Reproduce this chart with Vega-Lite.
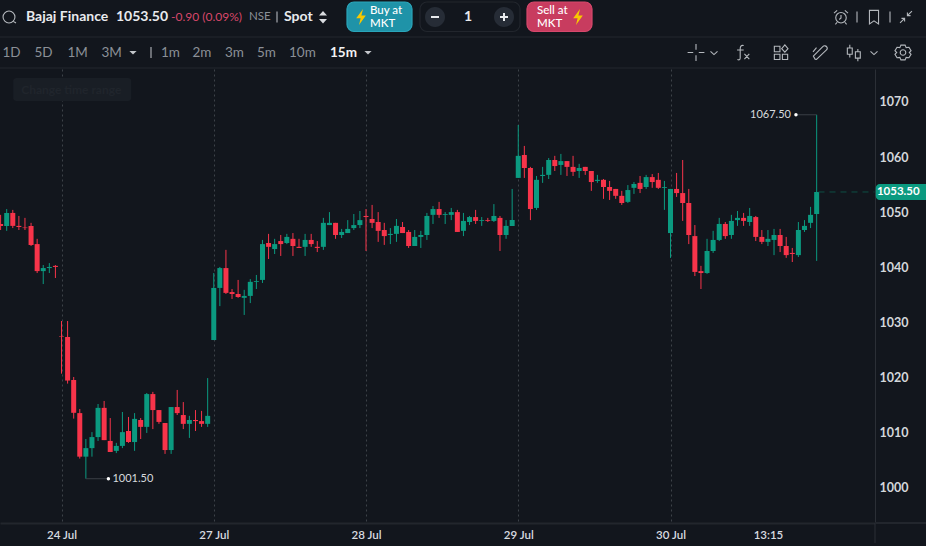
{
  "$schema": "https://vega.github.io/schema/vega-lite/v6.json",
  "background": "#12161d",
  "padding": {"left": -1, "top": 0, "right": 0, "bottom": 4},
  "spacing": 0,
  "config": {
    "view": {"stroke": null},
    "text": {"font": "Lato"},
    "axis": {"labelFont": "Lato", "title": null}
  },
  "datasets": {
    "candles": [
      {"n":0,"o":1047.7,"h":1049.35,"l":1046.6,"c":1047.35},
      {"n":1,"o":1047.35,"h":1050.4,"l":1046.45,"c":1049.7},
      {"n":2,"o":1049.7,"h":1050.25,"l":1046.95,"c":1047.35},
      {"n":3,"o":1047.35,"h":1049.15,"l":1046.6,"c":1047.15},
      {"n":4,"o":1047.05,"h":1048.8,"l":1046.6,"c":1046.95},
      {"n":5,"o":1047.35,"h":1047.9,"l":1043.7,"c":1043.9},
      {"n":6,"o":1044.05,"h":1045,"l":1038.8,"c":1039.15},
      {"n":7,"o":1039.15,"h":1040.25,"l":1036.8,"c":1039.7},
      {"n":8,"o":1039.7,"h":1040.6,"l":1038.8,"c":1039.9},
      {"n":9,"o":1040.1,"h":1040.25,"l":1037.9,"c":1039.9},
      {"n":10,"o":1027.4,"h":1030.1,"l":1020.55,"c":1027.3},
      {"n":11,"o":1027.2,"h":1030.1,"l":1018.75,"c":1019.3},
      {"n":12,"o":1019.4,"h":1019.95,"l":1012.4,"c":1013.45},
      {"n":13,"o":1013.4,"h":1014.15,"l":1005.15,"c":1005.5},
      {"n":14,"o":1005.5,"h":1008.7,"l":1001.5,"c":1007.05},
      {"n":15,"o":1007.05,"h":1009.95,"l":1005.5,"c":1009.05},
      {"n":16,"o":1009.05,"h":1015.05,"l":1008.35,"c":1014.35},
      {"n":17,"o":1014.35,"h":1015.6,"l":1008.5,"c":1008.5},
      {"n":18,"o":1008.35,"h":1012.5,"l":1006.35,"c":1006.35},
      {"n":19,"o":1006.55,"h":1008,"l":1006.15,"c":1007.45},
      {"n":20,"o":1007.45,"h":1013.6,"l":1007.05,"c":1009.95},
      {"n":21,"o":1010.15,"h":1012.7,"l":1008,"c":1008.15},
      {"n":22,"o":1008.15,"h":1013.4,"l":1006.55,"c":1012.35},
      {"n":23,"o":1012.15,"h":1012.5,"l":1008.7,"c":1010.9},
      {"n":24,"o":1010.9,"h":1017.05,"l":1009.8,"c":1016.85},
      {"n":25,"o":1016.85,"h":1017.25,"l":1010.5,"c":1013.95},
      {"n":26,"o":1013.95,"h":1013.95,"l":1011.45,"c":1011.8},
      {"n":27,"o":1011.6,"h":1011.6,"l":1006,"c":1006.7},
      {"n":28,"o":1006.7,"h":1014.5,"l":1006,"c":1014.5},
      {"n":29,"o":1014.5,"h":1017.6,"l":1013.05,"c":1013.4},
      {"n":30,"o":1013.05,"h":1015.4,"l":1010.5,"c":1011.45},
      {"n":31,"o":1011.45,"h":1012.9,"l":1008.9,"c":1012.15},
      {"n":32,"o":1012.15,"h":1013.95,"l":1010.15,"c":1011.95},
      {"n":33,"o":1011.95,"h":1013.8,"l":1010.9,"c":1011.45},
      {"n":34,"o":1011.45,"h":1019.75,"l":1010.9,"c":1012.9},
      {"n":35,"o":1026.65,"h":1038.8,"l":1026.65,"c":1036.1},
      {"n":36,"o":1036.1,"h":1039.9,"l":1032.8,"c":1039.7},
      {"n":37,"o":1039.7,"h":1043,"l":1035,"c":1035.2},
      {"n":38,"o":1035.35,"h":1035.9,"l":1034.1,"c":1035},
      {"n":39,"o":1035,"h":1037.55,"l":1034.3,"c":1034.45},
      {"n":40,"o":1034.3,"h":1035.75,"l":1031.2,"c":1034.65},
      {"n":41,"o":1034.65,"h":1037.7,"l":1033.35,"c":1037.2},
      {"n":42,"o":1037.2,"h":1038.45,"l":1035.9,"c":1037.35},
      {"n":43,"o":1037.55,"h":1044.8,"l":1037,"c":1044.05},
      {"n":44,"o":1044.25,"h":1045.9,"l":1041.35,"c":1043.55},
      {"n":45,"o":1043.15,"h":1045,"l":1042.25,"c":1044.05},
      {"n":46,"o":1044.6,"h":1045.7,"l":1041.9,"c":1044.05},
      {"n":47,"o":1044.25,"h":1045.9,"l":1044.05,"c":1045.35},
      {"n":48,"o":1045,"h":1046.05,"l":1041.9,"c":1043.7},
      {"n":49,"o":1043.55,"h":1045,"l":1043.35,"c":1043.35},
      {"n":50,"o":1043.55,"h":1045.9,"l":1041.9,"c":1044.8},
      {"n":51,"o":1044.8,"h":1045.9,"l":1043.55,"c":1044.05},
      {"n":52,"o":1043.55,"h":1044.6,"l":1042.6,"c":1043.35},
      {"n":53,"o":1043.55,"h":1048.8,"l":1043,"c":1047.9},
      {"n":54,"o":1047.5,"h":1049.85,"l":1047.5,"c":1047.9},
      {"n":55,"o":1047.9,"h":1047.9,"l":1045,"c":1045.7},
      {"n":56,"o":1045.7,"h":1046.8,"l":1045.15,"c":1046.25},
      {"n":57,"o":1046.05,"h":1048.4,"l":1046.05,"c":1046.8},
      {"n":58,"o":1046.95,"h":1049.5,"l":1046.6,"c":1047.5},
      {"n":59,"o":1047.5,"h":1050.05,"l":1046.95,"c":1048.4},
      {"n":60,"o":1049.15,"h":1050.4,"l":1042.8,"c":1048.95},
      {"n":61,"o":1048.6,"h":1051.15,"l":1046.95,"c":1047.9},
      {"n":62,"o":1048.05,"h":1049.85,"l":1044.45,"c":1046.45},
      {"n":63,"o":1046.6,"h":1047.9,"l":1043.9,"c":1045.5},
      {"n":64,"o":1045.7,"h":1046.95,"l":1044.05,"c":1045.9},
      {"n":65,"o":1045.9,"h":1048.6,"l":1044.45,"c":1047.35},
      {"n":66,"o":1047.15,"h":1048.05,"l":1046.05,"c":1046.05},
      {"n":67,"o":1046.25,"h":1046.6,"l":1043.35,"c":1043.7},
      {"n":68,"o":1043.7,"h":1046.6,"l":1043.7,"c":1045.35},
      {"n":69,"o":1045.35,"h":1046.45,"l":1043.35,"c":1045.7},
      {"n":70,"o":1045.7,"h":1049.7,"l":1044.8,"c":1049.15},
      {"n":71,"o":1049.35,"h":1050.95,"l":1047.7,"c":1050.4},
      {"n":72,"o":1050.4,"h":1051.7,"l":1048.8,"c":1049.35},
      {"n":73,"o":1049.35,"h":1049.85,"l":1047.7,"c":1049.5},
      {"n":74,"o":1049.35,"h":1050.6,"l":1048.4,"c":1049.85},
      {"n":75,"o":1049.85,"h":1050.25,"l":1046.25,"c":1046.25},
      {"n":76,"o":1046.45,"h":1049.7,"l":1045.5,"c":1048.25},
      {"n":77,"o":1048.05,"h":1049.15,"l":1047.5,"c":1048.95},
      {"n":78,"o":1048.95,"h":1050.25,"l":1047.7,"c":1048.25},
      {"n":79,"o":1048.25,"h":1048.95,"l":1047.35,"c":1048.4},
      {"n":80,"o":1048.4,"h":1048.8,"l":1048.05,"c":1048.25},
      {"n":81,"o":1048.25,"h":1051.3,"l":1048.05,"c":1049.15},
      {"n":82,"o":1048.8,"h":1049.15,"l":1042.8,"c":1045.7},
      {"n":83,"o":1045.7,"h":1048.4,"l":1045,"c":1047.35},
      {"n":84,"o":1047.35,"h":1054.05,"l":1047.35,"c":1048.4},
      {"n":85,"o":1056.05,"h":1065.65,"l":1056.05,"c":1060.05},
      {"n":86,"o":1060.2,"h":1061.85,"l":1056.05,"c":1057.85},
      {"n":87,"o":1057.85,"h":1058.05,"l":1048.4,"c":1050.4},
      {"n":88,"o":1050.6,"h":1056.4,"l":1050.25,"c":1055.7},
      {"n":89,"o":1056.4,"h":1058.05,"l":1055.15,"c":1056.6},
      {"n":90,"o":1056.6,"h":1059.65,"l":1055.85,"c":1059.3},
      {"n":91,"o":1059.3,"h":1060.05,"l":1057.3,"c":1058.2},
      {"n":92,"o":1058.4,"h":1060.4,"l":1056.6,"c":1059.1},
      {"n":93,"o":1059.1,"h":1059.1,"l":1056.4,"c":1058.05},
      {"n":94,"o":1058.05,"h":1060.05,"l":1056.4,"c":1057.15},
      {"n":95,"o":1057.3,"h":1058.6,"l":1056.05,"c":1057.85},
      {"n":96,"o":1058.05,"h":1058.05,"l":1056.6,"c":1057.3},
      {"n":97,"o":1057.3,"h":1057.3,"l":1053.7,"c":1055.3},
      {"n":98,"o":1055.5,"h":1056.6,"l":1055.15,"c":1055.7},
      {"n":99,"o":1055.7,"h":1055.85,"l":1052.25,"c":1054.4},
      {"n":100,"o":1054.4,"h":1055.5,"l":1052.05,"c":1053.7},
      {"n":101,"o":1054.05,"h":1054.05,"l":1052.25,"c":1052.8},
      {"n":102,"o":1052.8,"h":1053.7,"l":1051.15,"c":1051.5},
      {"n":103,"o":1051.7,"h":1054.75,"l":1051.5,"c":1053.85},
      {"n":104,"o":1054.25,"h":1055.3,"l":1053.15,"c":1054.95},
      {"n":105,"o":1055.15,"h":1056.4,"l":1053.3,"c":1054.05},
      {"n":106,"o":1054.4,"h":1056.6,"l":1054.05,"c":1056.2},
      {"n":107,"o":1056.2,"h":1056.75,"l":1054.25,"c":1055.3},
      {"n":108,"o":1055.7,"h":1056.95,"l":1054.05,"c":1054.25},
      {"n":109,"o":1054.25,"h":1055.5,"l":1050.25,"c":1054.4},
      {"n":110,"o":1046.05,"h":1054.05,"l":1041.55,"c":1054.05},
      {"n":111,"o":1054.05,"h":1056.95,"l":1052.6,"c":1053.3},
      {"n":112,"o":1053.3,"h":1059.3,"l":1048.25,"c":1051.5},
      {"n":113,"o":1051.5,"h":1054.05,"l":1044.05,"c":1045.7},
      {"n":114,"o":1045.5,"h":1047.5,"l":1038.25,"c":1039},
      {"n":115,"o":1039.15,"h":1040.1,"l":1035.9,"c":1038.8},
      {"n":116,"o":1038.8,"h":1045,"l":1038.65,"c":1042.8},
      {"n":117,"o":1042.8,"h":1046.45,"l":1042.45,"c":1044.8},
      {"n":118,"o":1044.8,"h":1048.8,"l":1044.6,"c":1047.7},
      {"n":119,"o":1047.7,"h":1048.05,"l":1045,"c":1045.5},
      {"n":120,"o":1045.7,"h":1049.35,"l":1045,"c":1048.25},
      {"n":121,"o":1048.4,"h":1050.05,"l":1047.35,"c":1048.8},
      {"n":122,"o":1048.8,"h":1049.7,"l":1047.35,"c":1048.25},
      {"n":123,"o":1048.05,"h":1050.6,"l":1047.35,"c":1049.15},
      {"n":124,"o":1048.95,"h":1049.15,"l":1044.6,"c":1045.35},
      {"n":125,"o":1045.35,"h":1046.6,"l":1044.05,"c":1044.45},
      {"n":126,"o":1044.45,"h":1046.6,"l":1043.7,"c":1045},
      {"n":127,"o":1044.8,"h":1046.8,"l":1042.05,"c":1045.7},
      {"n":128,"o":1045.7,"h":1046.8,"l":1042.6,"c":1043.7},
      {"n":129,"o":1043.7,"h":1045.35,"l":1041.55,"c":1042.05},
      {"n":130,"o":1042.45,"h":1043.35,"l":1040.8,"c":1042.25},
      {"n":131,"o":1042.05,"h":1048.05,"l":1041.7,"c":1046.6},
      {"n":132,"o":1046.6,"h":1048.4,"l":1046.25,"c":1047.35},
      {"n":133,"o":1047.9,"h":1050.8,"l":1046.95,"c":1049.35},
      {"n":134,"o":1049.5,"h":1067.5,"l":1041,"c":1053.5}
    ],
    "extremes": [
      {"n":130.6,"n2":134,"tip":130.6,"price":1067.5,"label":"1067.50","side":"high"},
      {"n":14,"n2":17.7,"tip":17.7,"price":1001.5,"label":"1001.50","side":"low"}
    ],
    "last": [
      {"n":134.3,"n2":143.5,"tagStart":143.7,"tagEnd":152.3,"tagMid":147.4,"price":1053.5,"tagTop":1054.95,"tagBottom":1052.05,"label":"1053.50"}
    ],
    "hint": [
      {"n":2.07,"n2":21.45,"textAt":3.38,"top":1074.17,"bottom":1070,"mid":1072,"label":"Change time range"}
    ],
    "frame": [
      {"n":143.58,"n2":152.3,"top":993.47,"bottom":989.85}
    ],
    "panels": [
      {"kind":"buy","slot":24,"slot2":28,"line":1,"line2":5},
      {"kind":"qty","slot":29,"slot2":33,"line":1,"line2":5},
      {"kind":"sell","slot":34,"slot2":37,"line":1,"line2":5}
    ],
    "dividers": [
      {"slot":0,"slot2":50,"line":6},
      {"slot":0,"slot2":50,"line":10}
    ],
    "solidGlyphs": [
      {"icon":"disc","slot":30,"line":3},
      {"icon":"disc","slot":32,"line":3},
      {"icon":"bolt","slot":25,"line":3},
      {"icon":"bolt","slot":36,"line":3},
      {"icon":"updown","slot":22,"line":3},
      {"icon":"caret","slot":11,"line":8},
      {"icon":"caret","slot":26,"line":8}
    ],
    "signGlyphs": [
      {"icon":"minus","slot":30,"line":3},
      {"icon":"plus","slot":32,"line":3}
    ],
    "lineGlyphs": [
      {"icon":"search","slot":2,"line":3},
      {"icon":"sep","slot":12,"line":8},
      {"icon":"sep","slot":19,"line":3},
      {"icon":"sep","slot":45,"line":3},
      {"icon":"sep","slot":47,"line":3},
      {"icon":"alarm","slot":43,"line":3},
      {"icon":"bookmark","slot":46,"line":3},
      {"icon":"compress","slot":49,"line":3},
      {"icon":"crosshair","slot":38,"line":8},
      {"icon":"chevron","slot":39,"line":8},
      {"icon":"fx","slot":40,"line":8},
      {"icon":"tiles","slot":41,"line":8},
      {"icon":"pencil","slot":42,"line":8},
      {"icon":"candle","slot":44,"line":8},
      {"icon":"chevron","slot":46,"line":8},
      {"icon":"gear","slot":48,"line":8}
    ],
    "labels": [
      {"label":"Bajaj Finance","kind":"name","slot":5,"line":3},
      {"label":"1053.50","kind":"name","slot":9,"line":3},
      {"label":"-0.90 (0.09%)","kind":"change","slot":14,"line":3},
      {"label":"NSE","kind":"exchange","slot":17,"line":3},
      {"label":"Spot","kind":"name","slot":20,"line":3},
      {"label":"Buy at","kind":"button","slot":27,"line":2},
      {"label":"MKT","kind":"button","slot":27,"line":4},
      {"label":"Sell at","kind":"button","slot":35,"line":2},
      {"label":"MKT","kind":"button","slot":35,"line":4},
      {"label":"1","kind":"qty","slot":31,"line":3},
      {"label":"1D","kind":"range","slot":1,"line":8},
      {"label":"5D","kind":"range","slot":6,"line":8},
      {"label":"1M","kind":"range","slot":7,"line":8},
      {"label":"3M","kind":"range","slot":8,"line":8},
      {"label":"1m","kind":"range","slot":13,"line":8},
      {"label":"2m","kind":"range","slot":15,"line":8},
      {"label":"3m","kind":"range","slot":16,"line":8},
      {"label":"5m","kind":"range","slot":18,"line":8},
      {"label":"10m","kind":"range","slot":21,"line":8},
      {"label":"15m","kind":"active","slot":23,"line":8}
    ]
  },
  "vconcat": [
    {
      "width": 926,
      "height": 68,
      "resolve": {"scale": {"shape": "independent", "color": "independent"}},
      "encoding": {
        "x": {
          "field": "slot",
          "type": "quantitative",
          "axis": null,
          "scale": {
            "nice": false,
            "zero": false,
            "domain": [0,1,2,3,4,5,6,7,8,9,10,11,12,13,14,15,16,17,18,19,20,21,22,23,24,25,26,27,28,29,30,31,32,33,34,35,36,37,38,39,40,41,42,43,44,45,46,47,48,49,50],
            "range": [0,2.5,9,13,21,26,34.5,67.5,101.5,116,131,133,151,161,171,192.5,225,249,257,277,284,289,323,330,347,361,368,370,412,420,435,468,504,520,527,537,578,592,696,714,743,781,820,841,854,857,874,890,903,906,926]
          }
        },
        "y": {
          "field": "line",
          "type": "quantitative",
          "axis": null,
          "scale": {
            "nice": false,
            "zero": false,
            "domain": [0,1,2,3,4,5,6,7,8,9,10],
            "range": [0,2,11,17,24,31.5,37,44,52.5,60,68]
          }
        }
      },
      "layer": [
        {
          "data": {"name": "dividers"},
          "mark": {"type": "rule", "color": "#23272e"},
          "encoding": {"x2": {"field": "slot2"}}
        },
        {
          "data": {"name": "panels"},
          "mark": {"type": "rect", "cornerRadius": 7, "strokeWidth": 1.2},
          "encoding": {
            "x2": {"field": "slot2"},
            "y2": {"field": "line2"},
            "fill": {"field": "kind", "legend": null, "scale": {"domain": ["buy","qty","sell"], "range": ["#1f93a8","#12161d","#c83c5f"]}},
            "stroke": {"field": "kind", "legend": null, "scale": {"domain": ["buy","qty","sell"], "range": ["#2aa5ba","#22262d","#d6486c"]}}
          }
        },
        {
          "data": {"name": "solidGlyphs"},
          "mark": {"type": "point", "filled": true, "size": 256, "opacity": 1},
          "encoding": {
            "shape": {"field": "icon", "legend": null, "scale": {
              "domain": ["disc","bolt","updown","caret"],
              "range": [
                "M1.25,0A1.25,1.25 0 1 0 -1.25,0A1.25,1.25 0 1 0 1.25,0Z",
                "M0.25,-1L-0.6,0.15L-0.05,0.15L-0.25,1L0.6,-0.2L0.05,-0.2Z",
                "M-0.5,-0.2L0,-0.75L0.5,-0.2ZM-0.5,0.25L0,0.8L0.5,0.25Z",
                "M-0.45,-0.2L0.45,-0.2L0,0.25Z"
              ]
            }},
            "color": {"field": "icon", "legend": null, "scale": {
              "domain": ["disc","bolt","updown","caret"],
              "range": ["#262c36","#f8c800","#d9dce0","#c4c7cc"]
            }}
          }
        },
        {
          "data": {"name": "signGlyphs"},
          "mark": {"type": "point", "filled": false, "size": 256, "opacity": 1, "strokeWidth": 2, "color": "#e8eaed"},
          "encoding": {
            "shape": {"field": "icon", "legend": null, "scale": {
              "domain": ["minus","plus"],
              "range": ["M-0.5,0L0.5,0","M-0.5,0L0.5,0M0,-0.5L0,0.5"]
            }}
          }
        },
        {
          "data": {"name": "lineGlyphs"},
          "mark": {"type": "point", "filled": false, "size": 196, "opacity": 1, "strokeWidth": 1.1, "color": "#b4b8bd"},
          "encoding": {
            "shape": {"field": "icon", "legend": null, "scale": {
              "domain": ["search","sep","alarm","bookmark","compress","crosshair","chevron","fx","tiles","pencil","candle","gear"],
              "range": [
                "M0.85,0A0.85,0.85 0 1 0 -0.85,0A0.85,0.85 0 1 0 0.85,0M0.6,0.62L1,0.85",
                "M0,-0.8L0,0.8",
                "M0.75,0.1A0.75,0.75 0 1 0 -0.75,0.1A0.75,0.75 0 1 0 0.75,0.1M0,-0.3L0,0.15L-0.25,0.35M-1,-0.55L-0.55,-0.95M1,-0.55L0.55,-0.95M-0.55,0.75L-0.8,1.05M0.55,0.75L0.8,1.05",
                "M-0.65,-0.95L0.65,-0.95L0.65,1L0,0.55L-0.65,1Z",
                "M0.2,-0.2L0.85,-0.85M0.2,-0.65L0.2,-0.2L0.65,-0.2M-0.2,0.2L-0.85,0.85M-0.2,0.65L-0.2,0.2L-0.65,0.2",
                "M-1.2,0L-0.4,0M0.4,0L1.2,0M0,-1.2L0,-0.4M0,0.4L0,1.2",
                "M-0.5,-0.15L0,0.3L0.5,-0.15",
                "M0.1,-1C-0.3,-1.1 -0.4,-0.8 -0.4,-0.5L-0.4,0.8C-0.4,1.1 -0.6,1.1 -0.8,1M-0.85,-0.35L0.1,-0.35M0.2,0.2L0.9,0.95M0.9,0.2L0.2,0.95",
                "M-0.95,-0.9L-0.15,-0.9L-0.15,-0.1L-0.95,-0.1ZM-0.95,0.25L-0.15,0.25L-0.15,1L-0.95,1ZM0.2,0.25L0.95,0.25L0.95,1L0.2,1ZM0.55,-1.1L1,-0.55L0.55,-0.05L0.1,-0.55Z",
                "M-0.7,0.95L-0.95,0.5L0.4,-0.85C0.6,-1.05 0.9,-0.95 1,-0.75C1.1,-0.55 1,-0.4 0.85,-0.3L-0.5,1ZM-1,-0.1L-0.5,-0.7",
                "M-0.6,-1.1L-0.6,-0.65M-0.95,-0.65L-0.25,-0.65L-0.25,0.25L-0.95,0.25ZM-0.6,0.25L-0.6,0.7M0.55,-0.5L0.55,-0.1M0.2,-0.1L0.9,-0.1L0.9,0.8L0.2,0.8ZM0.55,0.8L0.55,1.25",
                "M-0.3,-1.05L0.3,-1.05L0.45,-0.7L0.85,-0.75L1.15,-0.25L0.9,0L1.15,0.25L0.85,0.75L0.45,0.7L0.3,1.05L-0.3,1.05L-0.45,0.7L-0.85,0.75L-1.15,0.25L-0.9,0L-1.15,-0.25L-0.85,-0.75L-0.45,-0.7ZM0.4,0A0.4,0.4 0 1 0 -0.4,0A0.4,0.4 0 1 0 0.4,0"
              ]
            }}
          }
        },
        {
          "data": {"name": "labels"},
          "transform": [{"filter": "datum.kind === 'name'"}],
          "mark": {"type": "text", "align": "left", "baseline": "middle", "fontSize": 14, "fontWeight": 700, "color": "#e8eaed"},
          "encoding": {"text": {"field": "label"}}
        },
        {
          "data": {"name": "labels"},
          "transform": [{"filter": "datum.kind === 'change'"}],
          "mark": {"type": "text", "align": "left", "baseline": "middle", "fontSize": 12, "color": "#d8476a"},
          "encoding": {"text": {"field": "label"}}
        },
        {
          "data": {"name": "labels"},
          "transform": [{"filter": "datum.kind === 'exchange'"}],
          "mark": {"type": "text", "align": "left", "baseline": "middle", "fontSize": 11.5, "color": "#8b9097"},
          "encoding": {"text": {"field": "label"}}
        },
        {
          "data": {"name": "labels"},
          "transform": [{"filter": "datum.kind === 'button'"}],
          "mark": {"type": "text", "align": "left", "baseline": "middle", "fontSize": 11.5, "fontWeight": 500, "color": "#ffffff"},
          "encoding": {"text": {"field": "label"}}
        },
        {
          "data": {"name": "labels"},
          "transform": [{"filter": "datum.kind === 'qty'"}],
          "mark": {"type": "text", "align": "center", "baseline": "middle", "fontSize": 14, "fontWeight": 700, "color": "#e8eaed"},
          "encoding": {"text": {"field": "label"}}
        },
        {
          "data": {"name": "labels"},
          "transform": [{"filter": "datum.kind === 'range'"}],
          "mark": {"type": "text", "align": "left", "baseline": "middle", "fontSize": 13.5, "color": "#8b9097"},
          "encoding": {"text": {"field": "label"}}
        },
        {
          "data": {"name": "labels"},
          "transform": [{"filter": "datum.kind === 'active'"}],
          "mark": {"type": "text", "align": "left", "baseline": "middle", "fontSize": 13.5, "fontWeight": 700, "color": "#f2f3f5"},
          "encoding": {"text": {"field": "label"}}
        }
      ]
    },
    {
      "width": 875,
      "height": 454,
      "layer": [
        {
          "data": {"name": "hint"},
          "mark": {"type": "rect", "color": "#191e25", "cornerRadius": 3},
          "encoding": {
            "x": {
              "field": "n",
              "type": "quantitative",
              "scale": {"domain": [-0.1, 143.58], "nice": false, "zero": false, "padding": 0},
              "axis": {
                "values": [10, 35, 60, 85, 110, 126],
                "labelExpr": "{'10':'24 Jul','35':'27 Jul','60':'28 Jul','85':'29 Jul','110':'30 Jul','126':'13:15'}[datum.value]",
                "labelColor": "#d9dce0",
                "labelFontSize": 11.5,
                "labelFontWeight": 600,
                "labelPadding": 6,
                "labelOverlap": false,
                "labelFlush": false,
                "ticks": false,
                "domainColor": "#22262d",
                "domainWidth": 2,
                "grid": true,
                "gridColor": "#3d4249",
                "gridDash": [2, 3],
                "gridOpacity": {"condition": {"test": "datum.value === 126", "value": 0}, "value": 1}
              }
            },
            "x2": {"field": "n2"},
            "y": {
              "field": "top",
              "type": "quantitative",
              "scale": {"domain": [993.47, 1075.8], "nice": false, "zero": false},
              "axis": {
                "orient": "right",
                "values": [1000, 1010, 1020, 1030, 1040, 1050, 1060, 1070],
                "format": "d",
                "labelColor": "#d4d7db",
                "labelFontSize": 12.5,
                "labelFontWeight": 700,
                "labelPadding": 4,
                "labelOffset": 1,
                "ticks": false,
                "grid": false,
                "domainColor": "#2b2f36"
              }
            },
            "y2": {"field": "bottom"}
          }
        },
        {
          "data": {"name": "hint"},
          "mark": {"type": "text", "align": "left", "baseline": "middle", "fontSize": 12, "fontWeight": 700, "color": "#20252c"},
          "encoding": {
            "x": {"field": "textAt", "type": "quantitative"},
            "y": {"field": "mid", "type": "quantitative"},
            "text": {"field": "label"}
          }
        },
        {
          "data": {"name": "frame"},
          "mark": {"type": "rule", "color": "#2b2f36"},
          "encoding": {
            "x": {"field": "n", "type": "quantitative"},
            "y": {"field": "top", "type": "quantitative"},
            "y2": {"field": "bottom"}
          }
        },
        {
          "data": {"name": "frame"},
          "mark": {"type": "rule", "color": "#22262d", "strokeWidth": 2},
          "encoding": {
            "x": {"field": "n", "type": "quantitative"},
            "x2": {"field": "n2"},
            "y": {"field": "top", "type": "quantitative"}
          }
        },
        {
          "data": {"name": "candles"},
          "mark": {"type": "rule", "strokeWidth": 1, "clip": true},
          "encoding": {
            "x": {"field": "n", "type": "quantitative"},
            "y": {"field": "h", "type": "quantitative"},
            "y2": {"field": "l"},
            "color": {"condition": {"test": "datum.c >= datum.o", "value": "#0b9a80"}, "value": "#f7344a"}
          }
        },
        {
          "data": {"name": "candles"},
          "mark": {"type": "bar", "size": 5, "orient": "vertical", "clip": true},
          "encoding": {
            "x": {"field": "n", "type": "quantitative"},
            "y": {"field": "o", "type": "quantitative"},
            "y2": {"field": "c"},
            "color": {"condition": {"test": "datum.c >= datum.o", "value": "#0b9a80"}, "value": "#f7344a"}
          }
        },
        {
          "data": {"name": "extremes"},
          "mark": {"type": "rule", "color": "#3a3f46"},
          "encoding": {
            "x": {"field": "n", "type": "quantitative"},
            "x2": {"field": "n2"},
            "y": {"field": "price", "type": "quantitative"}
          }
        },
        {
          "data": {"name": "extremes"},
          "mark": {"type": "circle", "size": 12, "color": "#ffffff", "opacity": 1},
          "encoding": {
            "x": {"field": "tip", "type": "quantitative"},
            "y": {"field": "price", "type": "quantitative"}
          }
        },
        {
          "data": {"name": "extremes"},
          "transform": [{"filter": "datum.side === 'high'"}],
          "mark": {"type": "text", "align": "right", "baseline": "middle", "dx": -5, "fontSize": 11, "color": "#d7dadd"},
          "encoding": {
            "x": {"field": "tip", "type": "quantitative"},
            "y": {"field": "price", "type": "quantitative"},
            "text": {"field": "label"}
          }
        },
        {
          "data": {"name": "extremes"},
          "transform": [{"filter": "datum.side === 'low'"}],
          "mark": {"type": "text", "align": "left", "baseline": "middle", "dx": 4, "fontSize": 11, "color": "#d7dadd"},
          "encoding": {
            "x": {"field": "tip", "type": "quantitative"},
            "y": {"field": "price", "type": "quantitative"},
            "text": {"field": "label"}
          }
        },
        {
          "data": {"name": "last"},
          "mark": {"type": "rule", "color": "#0e4f45", "strokeDash": [6, 5]},
          "encoding": {
            "x": {"field": "n", "type": "quantitative"},
            "x2": {"field": "n2"},
            "y": {"field": "price", "type": "quantitative"}
          }
        },
        {
          "data": {"name": "last"},
          "mark": {"type": "rect", "color": "#0b9a80", "cornerRadiusTopLeft": 4, "cornerRadiusBottomLeft": 4},
          "encoding": {
            "x": {"field": "tagStart", "type": "quantitative"},
            "x2": {"field": "tagEnd"},
            "y": {"field": "tagTop", "type": "quantitative"},
            "y2": {"field": "tagBottom"}
          }
        },
        {
          "data": {"name": "last"},
          "mark": {"type": "text", "align": "center", "baseline": "middle", "fontSize": 11.5, "fontWeight": 700, "color": "#ffffff"},
          "encoding": {
            "x": {"field": "tagMid", "type": "quantitative"},
            "y": {"field": "price", "type": "quantitative"},
            "text": {"field": "label"}
          }
        }
      ]
    }
  ]
}
